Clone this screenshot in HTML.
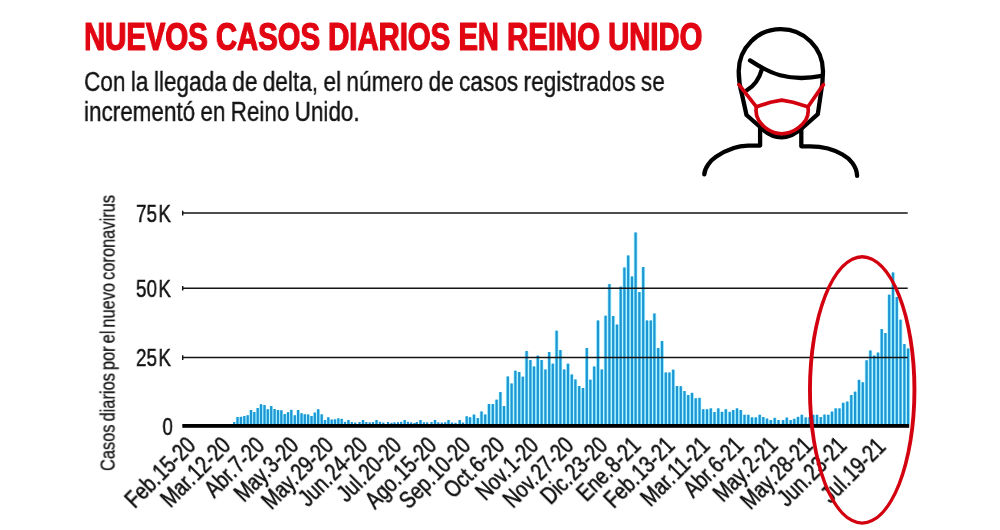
<!DOCTYPE html>
<html lang="es"><head><meta charset="utf-8"><title>Nuevos casos diarios en Reino Unido</title>
<style>
html,body{margin:0;padding:0;background:#fff}
body{position:relative;width:1000px;height:530px;overflow:hidden;font-family:"Liberation Sans",sans-serif;color:#111}
svg{position:absolute;left:0;top:0;display:block}
.t{position:absolute;white-space:nowrap;line-height:1;transform-origin:0 0}
.t,.yt,.xl,#ylab{will-change:transform}
#title{left:84.0px;top:18.0px;font-size:38.2px;font-weight:bold;color:#e20613;transform:scaleX(0.767);-webkit-text-stroke:1px #e20613;text-shadow:0.6px 0 #e20613,-0.6px 0 #e20613}
#sub1{left:84.4px;top:67.0px;font-size:28.2px;color:#141414;transform:scaleX(0.8035);word-spacing:-1.2px;-webkit-text-stroke:0.4px #141414}
#sub2{left:84.4px;top:97.1px;font-size:28.2px;color:#141414;transform:scaleX(0.797);word-spacing:-1.2px;-webkit-text-stroke:0.4px #141414}
.yt{position:absolute;white-space:nowrap;line-height:1;font-size:23.2px;color:#111;transform-origin:100% 0;transform:scaleX(0.815);right:829.2px;text-align:right;-webkit-text-stroke:0.45px #111}
#ylab{position:absolute;white-space:nowrap;line-height:1;font-size:20.4px;color:#111;left:117.6px;top:470.8px;transform-origin:0 100%;transform:translateY(-100%) rotate(-90deg) scaleX(0.806);word-spacing:-2px;-webkit-text-stroke:0.3px #111}
.xl{position:absolute;white-space:nowrap;line-height:1;font-size:24.2px;color:#111;top:450.4px;-webkit-text-stroke:0.6px #111;transform-origin:100% 100%;transform:translate(-100%,-100%) rotate(-45deg) scaleX(0.789);word-spacing:-5.4px}
</style></head><body>
<svg width="1000" height="530" viewBox="0 0 1000 530">
<g id="bars" shape-rendering="auto">
<rect x="235.80" y="417.30" width="3.40" height="6.70" fill="#a8f4ff"/>
<rect x="239.20" y="417.10" width="3.40" height="6.90" fill="#a8f4ff"/>
<rect x="242.60" y="416.30" width="3.40" height="7.70" fill="#a8f4ff"/>
<rect x="246.05" y="415.50" width="3.30" height="8.50" fill="#a8f4ff"/>
<rect x="249.35" y="410.30" width="3.30" height="13.70" fill="#a8f4ff"/>
<rect x="252.60" y="412.30" width="3.40" height="11.70" fill="#a8f4ff"/>
<rect x="256.05" y="408.30" width="3.30" height="15.70" fill="#a8f4ff"/>
<rect x="259.25" y="404.50" width="3.50" height="19.50" fill="#a8f4ff"/>
<rect x="262.85" y="405.30" width="3.30" height="18.70" fill="#a8f4ff"/>
<rect x="266.10" y="409.50" width="3.40" height="14.50" fill="#a8f4ff"/>
<rect x="269.50" y="406.30" width="3.40" height="17.70" fill="#a8f4ff"/>
<rect x="272.90" y="409.30" width="3.40" height="14.70" fill="#a8f4ff"/>
<rect x="276.35" y="410.30" width="3.30" height="13.70" fill="#a8f4ff"/>
<rect x="279.60" y="410.50" width="3.40" height="13.50" fill="#a8f4ff"/>
<rect x="283.05" y="414.30" width="3.30" height="9.70" fill="#a8f4ff"/>
<rect x="286.35" y="412.50" width="3.30" height="11.50" fill="#a8f4ff"/>
<rect x="289.55" y="410.10" width="3.50" height="13.90" fill="#a8f4ff"/>
<rect x="293.15" y="415.50" width="3.30" height="8.50" fill="#a8f4ff"/>
<rect x="296.40" y="410.30" width="3.40" height="13.70" fill="#a8f4ff"/>
<rect x="299.85" y="413.50" width="3.30" height="10.50" fill="#a8f4ff"/>
<rect x="303.15" y="414.50" width="3.30" height="9.50" fill="#a8f4ff"/>
<rect x="306.40" y="414.70" width="3.40" height="9.30" fill="#a8f4ff"/>
<rect x="309.85" y="416.30" width="3.30" height="7.70" fill="#a8f4ff"/>
<rect x="313.10" y="412.80" width="3.40" height="11.20" fill="#a8f4ff"/>
<rect x="316.45" y="409.50" width="3.50" height="14.50" fill="#a8f4ff"/>
<rect x="320.05" y="414.60" width="3.30" height="9.40" fill="#a8f4ff"/>
<rect x="323.35" y="420.30" width="3.30" height="3.70" fill="#a8f4ff"/>
<rect x="326.60" y="417.50" width="3.40" height="6.50" fill="#a8f4ff"/>
<rect x="330.05" y="419.80" width="3.30" height="4.20" fill="#a8f4ff"/>
<rect x="333.35" y="419.60" width="3.30" height="4.40" fill="#a8f4ff"/>
<rect x="336.60" y="418.60" width="3.40" height="5.40" fill="#a8f4ff"/>
<rect x="340.05" y="419.10" width="3.30" height="4.90" fill="#a8f4ff"/>
<rect x="346.70" y="420.30" width="3.40" height="3.70" fill="#a8f4ff"/>
<rect x="361.35" y="420.30" width="3.30" height="3.70" fill="#a8f4ff"/>
<rect x="374.75" y="420.30" width="3.50" height="3.70" fill="#a8f4ff"/>
<rect x="403.05" y="420.30" width="3.30" height="3.70" fill="#a8f4ff"/>
<rect x="418.75" y="420.30" width="3.50" height="3.70" fill="#a8f4ff"/>
<rect x="433.35" y="420.30" width="3.30" height="3.70" fill="#a8f4ff"/>
<rect x="446.75" y="420.30" width="3.50" height="3.70" fill="#a8f4ff"/>
<rect x="458.05" y="420.30" width="3.30" height="3.70" fill="#a8f4ff"/>
<rect x="465.05" y="416.50" width="3.30" height="7.50" fill="#a8f4ff"/>
<rect x="468.05" y="417.50" width="3.90" height="6.50" fill="#a8f4ff"/>
<rect x="472.10" y="414.80" width="3.80" height="9.20" fill="#a8f4ff"/>
<rect x="475.95" y="418.30" width="3.70" height="5.70" fill="#a8f4ff"/>
<rect x="479.65" y="411.70" width="3.70" height="12.30" fill="#a8f4ff"/>
<rect x="483.30" y="414.70" width="3.80" height="9.30" fill="#a8f4ff"/>
<rect x="487.10" y="404.30" width="3.80" height="19.70" fill="#a8f4ff"/>
<rect x="490.90" y="404.30" width="3.80" height="19.70" fill="#a8f4ff"/>
<rect x="494.70" y="399.90" width="3.80" height="24.10" fill="#a8f4ff"/>
<rect x="498.60" y="392.30" width="3.60" height="31.70" fill="#a8f4ff"/>
<rect x="502.10" y="406.30" width="3.80" height="17.70" fill="#a8f4ff"/>
<rect x="505.90" y="376.70" width="3.80" height="47.30" fill="#a8f4ff"/>
<rect x="509.70" y="383.70" width="3.80" height="40.30" fill="#a8f4ff"/>
<rect x="513.50" y="370.90" width="3.80" height="53.10" fill="#a8f4ff"/>
<rect x="517.40" y="372.30" width="3.60" height="51.70" fill="#a8f4ff"/>
<rect x="520.90" y="376.90" width="3.80" height="47.10" fill="#a8f4ff"/>
<rect x="524.70" y="351.30" width="3.80" height="72.70" fill="#a8f4ff"/>
<rect x="528.60" y="360.30" width="3.60" height="63.70" fill="#a8f4ff"/>
<rect x="532.10" y="366.70" width="3.80" height="57.30" fill="#a8f4ff"/>
<rect x="535.90" y="355.90" width="3.80" height="68.10" fill="#a8f4ff"/>
<rect x="539.70" y="360.30" width="3.80" height="63.70" fill="#a8f4ff"/>
<rect x="543.50" y="369.70" width="3.80" height="54.30" fill="#a8f4ff"/>
<rect x="547.40" y="352.30" width="3.60" height="71.70" fill="#a8f4ff"/>
<rect x="550.90" y="363.90" width="3.80" height="60.10" fill="#a8f4ff"/>
<rect x="554.70" y="330.90" width="3.80" height="93.10" fill="#a8f4ff"/>
<rect x="558.50" y="350.30" width="3.80" height="73.70" fill="#a8f4ff"/>
<rect x="562.30" y="369.70" width="3.80" height="54.30" fill="#a8f4ff"/>
<rect x="566.10" y="363.90" width="3.80" height="60.10" fill="#a8f4ff"/>
<rect x="570.00" y="374.70" width="3.60" height="49.30" fill="#a8f4ff"/>
<rect x="573.50" y="379.70" width="3.80" height="44.30" fill="#a8f4ff"/>
<rect x="577.30" y="386.30" width="3.80" height="37.70" fill="#a8f4ff"/>
<rect x="581.10" y="388.30" width="3.80" height="35.70" fill="#a8f4ff"/>
<rect x="585.00" y="348.30" width="3.60" height="75.70" fill="#a8f4ff"/>
<rect x="588.50" y="379.90" width="3.80" height="44.10" fill="#a8f4ff"/>
<rect x="592.30" y="366.70" width="3.80" height="57.30" fill="#a8f4ff"/>
<rect x="596.10" y="320.70" width="3.80" height="103.30" fill="#a8f4ff"/>
<rect x="599.90" y="369.70" width="3.80" height="54.30" fill="#a8f4ff"/>
<rect x="603.70" y="315.90" width="3.80" height="108.10" fill="#a8f4ff"/>
<rect x="607.50" y="284.30" width="3.80" height="139.70" fill="#a8f4ff"/>
<rect x="611.30" y="316.30" width="3.80" height="107.70" fill="#a8f4ff"/>
<rect x="615.15" y="324.80" width="3.70" height="99.20" fill="#a8f4ff"/>
<rect x="618.85" y="286.90" width="3.70" height="137.10" fill="#a8f4ff"/>
<rect x="622.50" y="267.70" width="3.80" height="156.30" fill="#a8f4ff"/>
<rect x="626.30" y="255.70" width="3.80" height="168.30" fill="#a8f4ff"/>
<rect x="630.20" y="276.70" width="3.60" height="147.30" fill="#a8f4ff"/>
<rect x="633.70" y="232.70" width="3.80" height="191.30" fill="#a8f4ff"/>
<rect x="637.50" y="292.30" width="3.80" height="131.70" fill="#a8f4ff"/>
<rect x="641.30" y="267.30" width="3.80" height="156.70" fill="#a8f4ff"/>
<rect x="645.10" y="320.70" width="3.80" height="103.30" fill="#a8f4ff"/>
<rect x="649.00" y="320.70" width="3.60" height="103.30" fill="#a8f4ff"/>
<rect x="652.50" y="313.70" width="3.80" height="110.30" fill="#a8f4ff"/>
<rect x="656.30" y="348.30" width="3.80" height="75.70" fill="#a8f4ff"/>
<rect x="660.10" y="341.30" width="3.80" height="82.70" fill="#a8f4ff"/>
<rect x="664.00" y="372.70" width="3.60" height="51.30" fill="#a8f4ff"/>
<rect x="667.50" y="372.70" width="3.80" height="51.30" fill="#a8f4ff"/>
<rect x="671.30" y="369.90" width="3.80" height="54.10" fill="#a8f4ff"/>
<rect x="675.10" y="386.30" width="3.80" height="37.70" fill="#a8f4ff"/>
<rect x="678.95" y="386.50" width="3.70" height="37.50" fill="#a8f4ff"/>
<rect x="682.65" y="391.30" width="3.70" height="32.70" fill="#a8f4ff"/>
<rect x="686.30" y="395.30" width="3.80" height="28.70" fill="#a8f4ff"/>
<rect x="690.15" y="393.10" width="3.70" height="30.90" fill="#a8f4ff"/>
<rect x="693.80" y="398.50" width="3.80" height="25.50" fill="#a8f4ff"/>
<rect x="697.65" y="398.10" width="3.70" height="25.90" fill="#a8f4ff"/>
<rect x="701.30" y="409.50" width="3.80" height="14.50" fill="#a8f4ff"/>
<rect x="705.10" y="409.50" width="3.80" height="14.50" fill="#a8f4ff"/>
<rect x="708.95" y="408.60" width="3.70" height="15.40" fill="#a8f4ff"/>
<rect x="712.60" y="412.30" width="3.80" height="11.70" fill="#a8f4ff"/>
<rect x="716.45" y="408.60" width="3.70" height="15.40" fill="#a8f4ff"/>
<rect x="720.10" y="412.10" width="3.80" height="11.90" fill="#a8f4ff"/>
<rect x="723.85" y="409.50" width="3.90" height="14.50" fill="#a8f4ff"/>
<rect x="727.95" y="412.10" width="3.50" height="11.90" fill="#a8f4ff"/>
<rect x="731.30" y="410.30" width="3.80" height="13.70" fill="#a8f4ff"/>
<rect x="735.10" y="408.60" width="3.80" height="15.40" fill="#a8f4ff"/>
<rect x="738.95" y="410.30" width="3.70" height="13.70" fill="#a8f4ff"/>
<rect x="742.60" y="415.00" width="3.80" height="9.00" fill="#a8f4ff"/>
<rect x="746.45" y="415.00" width="3.70" height="9.00" fill="#a8f4ff"/>
<rect x="750.10" y="417.60" width="3.80" height="6.40" fill="#a8f4ff"/>
<rect x="753.85" y="417.60" width="3.90" height="6.40" fill="#a8f4ff"/>
<rect x="757.90" y="415.00" width="3.60" height="9.00" fill="#a8f4ff"/>
<rect x="761.45" y="417.30" width="3.70" height="6.70" fill="#a8f4ff"/>
<rect x="765.10" y="418.80" width="3.80" height="5.20" fill="#a8f4ff"/>
<rect x="768.85" y="420.30" width="3.90" height="3.70" fill="#a8f4ff"/>
<rect x="772.80" y="418.10" width="3.80" height="5.90" fill="#a8f4ff"/>
<rect x="776.55" y="420.30" width="3.90" height="3.70" fill="#a8f4ff"/>
<rect x="781.25" y="420.30" width="3.70" height="3.70" fill="#a8f4ff"/>
<rect x="784.85" y="417.80" width="3.90" height="6.20" fill="#a8f4ff"/>
<rect x="788.90" y="420.30" width="3.60" height="3.70" fill="#a8f4ff"/>
<rect x="792.45" y="419.00" width="3.70" height="5.00" fill="#a8f4ff"/>
<rect x="796.10" y="417.10" width="3.80" height="6.90" fill="#a8f4ff"/>
<rect x="799.85" y="415.00" width="3.90" height="9.00" fill="#a8f4ff"/>
<rect x="803.80" y="417.60" width="3.80" height="6.40" fill="#a8f4ff"/>
<rect x="807.60" y="417.50" width="3.80" height="6.50" fill="#a8f4ff"/>
<rect x="811.45" y="415.00" width="3.70" height="9.00" fill="#a8f4ff"/>
<rect x="815.10" y="415.00" width="3.80" height="9.00" fill="#a8f4ff"/>
<rect x="818.95" y="417.30" width="3.70" height="6.70" fill="#a8f4ff"/>
<rect x="822.60" y="414.80" width="3.80" height="9.20" fill="#a8f4ff"/>
<rect x="826.45" y="415.00" width="3.70" height="9.00" fill="#a8f4ff"/>
<rect x="830.15" y="411.80" width="3.70" height="12.20" fill="#a8f4ff"/>
<rect x="833.80" y="408.60" width="3.80" height="15.40" fill="#a8f4ff"/>
<rect x="837.65" y="408.60" width="3.70" height="15.40" fill="#a8f4ff"/>
<rect x="841.25" y="403.00" width="3.90" height="21.00" fill="#a8f4ff"/>
<rect x="845.35" y="401.80" width="3.90" height="22.20" fill="#a8f4ff"/>
<rect x="849.40" y="395.30" width="3.80" height="28.70" fill="#a8f4ff"/>
<rect x="853.15" y="391.90" width="3.90" height="32.10" fill="#a8f4ff"/>
<rect x="857.10" y="380.10" width="3.80" height="43.90" fill="#a8f4ff"/>
<rect x="860.90" y="382.50" width="3.80" height="41.50" fill="#a8f4ff"/>
<rect x="864.70" y="360.50" width="3.80" height="63.50" fill="#a8f4ff"/>
<rect x="868.50" y="350.70" width="3.80" height="73.30" fill="#a8f4ff"/>
<rect x="872.30" y="355.80" width="3.80" height="68.20" fill="#a8f4ff"/>
<rect x="876.15" y="352.80" width="3.70" height="71.20" fill="#a8f4ff"/>
<rect x="879.85" y="329.30" width="3.70" height="94.70" fill="#a8f4ff"/>
<rect x="883.50" y="333.30" width="3.80" height="90.70" fill="#a8f4ff"/>
<rect x="887.30" y="294.90" width="3.80" height="129.10" fill="#a8f4ff"/>
<rect x="891.10" y="272.70" width="3.80" height="151.30" fill="#a8f4ff"/>
<rect x="894.95" y="297.30" width="3.70" height="126.70" fill="#a8f4ff"/>
<rect x="898.55" y="319.90" width="3.90" height="104.10" fill="#a8f4ff"/>
<rect x="902.55" y="344.30" width="3.70" height="79.70" fill="#a8f4ff"/>
<rect x="906.25" y="348.70" width="3.70" height="75.30" fill="#a8f4ff"/>
<rect x="233.07" y="422.00" width="2.25" height="2.50" fill="#1e96d4"/>
<rect x="236.38" y="417.00" width="2.25" height="7.50" fill="#1e96d4"/>
<rect x="239.78" y="416.80" width="2.25" height="7.70" fill="#1e96d4"/>
<rect x="243.18" y="416.00" width="2.25" height="8.50" fill="#1e96d4"/>
<rect x="246.57" y="415.20" width="2.25" height="9.30" fill="#1e96d4"/>
<rect x="249.88" y="410.00" width="2.25" height="14.50" fill="#1e96d4"/>
<rect x="253.18" y="412.00" width="2.25" height="12.50" fill="#1e96d4"/>
<rect x="256.57" y="408.00" width="2.25" height="16.50" fill="#1e96d4"/>
<rect x="259.88" y="404.20" width="2.25" height="20.30" fill="#1e96d4"/>
<rect x="263.38" y="405.00" width="2.25" height="19.50" fill="#1e96d4"/>
<rect x="266.68" y="409.20" width="2.25" height="15.30" fill="#1e96d4"/>
<rect x="270.07" y="406.00" width="2.25" height="18.50" fill="#1e96d4"/>
<rect x="273.48" y="409.00" width="2.25" height="15.50" fill="#1e96d4"/>
<rect x="276.88" y="410.00" width="2.25" height="14.50" fill="#1e96d4"/>
<rect x="280.18" y="410.20" width="2.25" height="14.30" fill="#1e96d4"/>
<rect x="283.57" y="414.00" width="2.25" height="10.50" fill="#1e96d4"/>
<rect x="286.88" y="412.20" width="2.25" height="12.30" fill="#1e96d4"/>
<rect x="290.18" y="409.80" width="2.25" height="14.70" fill="#1e96d4"/>
<rect x="293.68" y="415.20" width="2.25" height="9.30" fill="#1e96d4"/>
<rect x="296.98" y="410.00" width="2.25" height="14.50" fill="#1e96d4"/>
<rect x="300.38" y="413.20" width="2.25" height="11.30" fill="#1e96d4"/>
<rect x="303.68" y="414.20" width="2.25" height="10.30" fill="#1e96d4"/>
<rect x="306.98" y="414.40" width="2.25" height="10.10" fill="#1e96d4"/>
<rect x="310.38" y="416.00" width="2.25" height="8.50" fill="#1e96d4"/>
<rect x="313.68" y="412.50" width="2.25" height="12.00" fill="#1e96d4"/>
<rect x="317.07" y="409.20" width="2.25" height="15.30" fill="#1e96d4"/>
<rect x="320.57" y="414.30" width="2.25" height="10.20" fill="#1e96d4"/>
<rect x="323.88" y="420.00" width="2.25" height="4.50" fill="#1e96d4"/>
<rect x="327.18" y="417.20" width="2.25" height="7.30" fill="#1e96d4"/>
<rect x="330.57" y="419.50" width="2.25" height="5.00" fill="#1e96d4"/>
<rect x="333.88" y="419.30" width="2.25" height="5.20" fill="#1e96d4"/>
<rect x="337.18" y="418.30" width="2.25" height="6.20" fill="#1e96d4"/>
<rect x="340.57" y="418.80" width="2.25" height="5.70" fill="#1e96d4"/>
<rect x="343.88" y="421.80" width="2.25" height="2.70" fill="#1e96d4"/>
<rect x="347.27" y="420.00" width="2.25" height="4.50" fill="#1e96d4"/>
<rect x="350.68" y="422.00" width="2.25" height="2.50" fill="#1e96d4"/>
<rect x="354.07" y="422.50" width="2.25" height="2.00" fill="#1e96d4"/>
<rect x="358.38" y="422.00" width="2.25" height="2.50" fill="#1e96d4"/>
<rect x="361.88" y="420.00" width="2.25" height="4.50" fill="#1e96d4"/>
<rect x="365.18" y="422.00" width="2.25" height="2.50" fill="#1e96d4"/>
<rect x="368.57" y="422.30" width="2.25" height="2.20" fill="#1e96d4"/>
<rect x="371.88" y="422.00" width="2.25" height="2.50" fill="#1e96d4"/>
<rect x="375.38" y="420.00" width="2.25" height="4.50" fill="#1e96d4"/>
<rect x="378.88" y="421.80" width="2.25" height="2.70" fill="#1e96d4"/>
<rect x="382.18" y="422.50" width="2.25" height="2.00" fill="#1e96d4"/>
<rect x="386.88" y="422.00" width="2.25" height="2.50" fill="#1e96d4"/>
<rect x="390.38" y="422.80" width="2.25" height="1.70" fill="#1e96d4"/>
<rect x="393.38" y="422.30" width="2.25" height="2.20" fill="#1e96d4"/>
<rect x="396.88" y="422.20" width="2.25" height="2.30" fill="#1e96d4"/>
<rect x="400.07" y="421.80" width="2.25" height="2.70" fill="#1e96d4"/>
<rect x="403.57" y="420.00" width="2.25" height="4.50" fill="#1e96d4"/>
<rect x="406.88" y="421.80" width="2.25" height="2.70" fill="#1e96d4"/>
<rect x="410.07" y="422.30" width="2.25" height="2.20" fill="#1e96d4"/>
<rect x="413.38" y="423.00" width="2.25" height="1.50" fill="#1e96d4"/>
<rect x="415.68" y="422.00" width="2.25" height="2.50" fill="#1e96d4"/>
<rect x="419.38" y="420.00" width="2.25" height="4.50" fill="#1e96d4"/>
<rect x="422.88" y="422.30" width="2.25" height="2.20" fill="#1e96d4"/>
<rect x="426.07" y="422.30" width="2.25" height="2.20" fill="#1e96d4"/>
<rect x="430.38" y="422.00" width="2.25" height="2.50" fill="#1e96d4"/>
<rect x="433.88" y="420.00" width="2.25" height="4.50" fill="#1e96d4"/>
<rect x="437.18" y="422.30" width="2.25" height="2.20" fill="#1e96d4"/>
<rect x="440.68" y="422.50" width="2.25" height="2.00" fill="#1e96d4"/>
<rect x="444.07" y="422.20" width="2.25" height="2.30" fill="#1e96d4"/>
<rect x="447.38" y="420.00" width="2.25" height="4.50" fill="#1e96d4"/>
<rect x="450.88" y="422.50" width="2.25" height="2.00" fill="#1e96d4"/>
<rect x="454.38" y="422.80" width="2.25" height="1.70" fill="#1e96d4"/>
<rect x="458.57" y="420.00" width="2.25" height="4.50" fill="#1e96d4"/>
<rect x="461.88" y="422.50" width="2.25" height="2.00" fill="#1e96d4"/>
<rect x="465.57" y="416.20" width="2.25" height="8.30" fill="#1e96d4"/>
<rect x="468.88" y="417.20" width="2.25" height="7.30" fill="#1e96d4"/>
<rect x="472.88" y="414.50" width="2.25" height="10.00" fill="#1e96d4"/>
<rect x="476.68" y="418.00" width="2.25" height="6.50" fill="#1e96d4"/>
<rect x="480.38" y="411.40" width="2.25" height="13.10" fill="#1e96d4"/>
<rect x="484.07" y="414.40" width="2.25" height="10.10" fill="#1e96d4"/>
<rect x="487.88" y="404.00" width="2.25" height="20.50" fill="#1e96d4"/>
<rect x="491.68" y="404.00" width="2.25" height="20.50" fill="#1e96d4"/>
<rect x="495.48" y="399.60" width="2.25" height="24.90" fill="#1e96d4"/>
<rect x="499.27" y="392.00" width="2.25" height="32.50" fill="#1e96d4"/>
<rect x="502.88" y="406.00" width="2.25" height="18.50" fill="#1e96d4"/>
<rect x="506.68" y="376.40" width="2.25" height="48.10" fill="#1e96d4"/>
<rect x="510.48" y="383.40" width="2.25" height="41.10" fill="#1e96d4"/>
<rect x="514.27" y="370.60" width="2.25" height="53.90" fill="#1e96d4"/>
<rect x="518.08" y="372.00" width="2.25" height="52.50" fill="#1e96d4"/>
<rect x="521.67" y="376.60" width="2.25" height="47.90" fill="#1e96d4"/>
<rect x="525.48" y="351.00" width="2.25" height="73.50" fill="#1e96d4"/>
<rect x="529.27" y="360.00" width="2.25" height="64.50" fill="#1e96d4"/>
<rect x="532.88" y="366.40" width="2.25" height="58.10" fill="#1e96d4"/>
<rect x="536.67" y="355.60" width="2.25" height="68.90" fill="#1e96d4"/>
<rect x="540.48" y="360.00" width="2.25" height="64.50" fill="#1e96d4"/>
<rect x="544.27" y="369.40" width="2.25" height="55.10" fill="#1e96d4"/>
<rect x="548.08" y="352.00" width="2.25" height="72.50" fill="#1e96d4"/>
<rect x="551.67" y="363.60" width="2.25" height="60.90" fill="#1e96d4"/>
<rect x="555.48" y="330.60" width="2.25" height="93.90" fill="#1e96d4"/>
<rect x="559.27" y="350.00" width="2.25" height="74.50" fill="#1e96d4"/>
<rect x="563.08" y="369.40" width="2.25" height="55.10" fill="#1e96d4"/>
<rect x="566.88" y="363.60" width="2.25" height="60.90" fill="#1e96d4"/>
<rect x="570.67" y="374.40" width="2.25" height="50.10" fill="#1e96d4"/>
<rect x="574.27" y="379.40" width="2.25" height="45.10" fill="#1e96d4"/>
<rect x="578.08" y="386.00" width="2.25" height="38.50" fill="#1e96d4"/>
<rect x="581.88" y="388.00" width="2.25" height="36.50" fill="#1e96d4"/>
<rect x="585.67" y="348.00" width="2.25" height="76.50" fill="#1e96d4"/>
<rect x="589.27" y="379.60" width="2.25" height="44.90" fill="#1e96d4"/>
<rect x="593.08" y="366.40" width="2.25" height="58.10" fill="#1e96d4"/>
<rect x="596.88" y="320.40" width="2.25" height="104.10" fill="#1e96d4"/>
<rect x="600.67" y="369.40" width="2.25" height="55.10" fill="#1e96d4"/>
<rect x="604.48" y="315.60" width="2.25" height="108.90" fill="#1e96d4"/>
<rect x="608.27" y="284.00" width="2.25" height="140.50" fill="#1e96d4"/>
<rect x="612.08" y="316.00" width="2.25" height="108.50" fill="#1e96d4"/>
<rect x="615.88" y="324.50" width="2.25" height="100.00" fill="#1e96d4"/>
<rect x="619.58" y="286.60" width="2.25" height="137.90" fill="#1e96d4"/>
<rect x="623.27" y="267.40" width="2.25" height="157.10" fill="#1e96d4"/>
<rect x="627.08" y="255.40" width="2.25" height="169.10" fill="#1e96d4"/>
<rect x="630.88" y="276.40" width="2.25" height="148.10" fill="#1e96d4"/>
<rect x="634.48" y="232.40" width="2.25" height="192.10" fill="#1e96d4"/>
<rect x="638.27" y="292.00" width="2.25" height="132.50" fill="#1e96d4"/>
<rect x="642.08" y="267.00" width="2.25" height="157.50" fill="#1e96d4"/>
<rect x="645.88" y="320.40" width="2.25" height="104.10" fill="#1e96d4"/>
<rect x="649.67" y="320.40" width="2.25" height="104.10" fill="#1e96d4"/>
<rect x="653.27" y="313.40" width="2.25" height="111.10" fill="#1e96d4"/>
<rect x="657.08" y="348.00" width="2.25" height="76.50" fill="#1e96d4"/>
<rect x="660.88" y="341.00" width="2.25" height="83.50" fill="#1e96d4"/>
<rect x="664.67" y="372.40" width="2.25" height="52.10" fill="#1e96d4"/>
<rect x="668.27" y="372.40" width="2.25" height="52.10" fill="#1e96d4"/>
<rect x="672.08" y="369.60" width="2.25" height="54.90" fill="#1e96d4"/>
<rect x="675.88" y="386.00" width="2.25" height="38.50" fill="#1e96d4"/>
<rect x="679.67" y="386.20" width="2.25" height="38.30" fill="#1e96d4"/>
<rect x="683.38" y="391.00" width="2.25" height="33.50" fill="#1e96d4"/>
<rect x="687.08" y="395.00" width="2.25" height="29.50" fill="#1e96d4"/>
<rect x="690.88" y="392.80" width="2.25" height="31.70" fill="#1e96d4"/>
<rect x="694.58" y="398.20" width="2.25" height="26.30" fill="#1e96d4"/>
<rect x="698.38" y="397.80" width="2.25" height="26.70" fill="#1e96d4"/>
<rect x="702.08" y="409.20" width="2.25" height="15.30" fill="#1e96d4"/>
<rect x="705.88" y="409.20" width="2.25" height="15.30" fill="#1e96d4"/>
<rect x="709.67" y="408.30" width="2.25" height="16.20" fill="#1e96d4"/>
<rect x="713.38" y="412.00" width="2.25" height="12.50" fill="#1e96d4"/>
<rect x="717.17" y="408.30" width="2.25" height="16.20" fill="#1e96d4"/>
<rect x="720.88" y="411.80" width="2.25" height="12.70" fill="#1e96d4"/>
<rect x="724.67" y="409.20" width="2.25" height="15.30" fill="#1e96d4"/>
<rect x="728.58" y="411.80" width="2.25" height="12.70" fill="#1e96d4"/>
<rect x="732.08" y="410.00" width="2.25" height="14.50" fill="#1e96d4"/>
<rect x="735.88" y="408.30" width="2.25" height="16.20" fill="#1e96d4"/>
<rect x="739.67" y="410.00" width="2.25" height="14.50" fill="#1e96d4"/>
<rect x="743.38" y="414.70" width="2.25" height="9.80" fill="#1e96d4"/>
<rect x="747.17" y="414.70" width="2.25" height="9.80" fill="#1e96d4"/>
<rect x="750.88" y="417.30" width="2.25" height="7.20" fill="#1e96d4"/>
<rect x="754.67" y="417.30" width="2.25" height="7.20" fill="#1e96d4"/>
<rect x="758.58" y="414.70" width="2.25" height="9.80" fill="#1e96d4"/>
<rect x="762.17" y="417.00" width="2.25" height="7.50" fill="#1e96d4"/>
<rect x="765.88" y="418.50" width="2.25" height="6.00" fill="#1e96d4"/>
<rect x="769.67" y="420.00" width="2.25" height="4.50" fill="#1e96d4"/>
<rect x="773.58" y="417.80" width="2.25" height="6.70" fill="#1e96d4"/>
<rect x="777.38" y="420.00" width="2.25" height="4.50" fill="#1e96d4"/>
<rect x="781.98" y="420.00" width="2.25" height="4.50" fill="#1e96d4"/>
<rect x="785.67" y="417.50" width="2.25" height="7.00" fill="#1e96d4"/>
<rect x="789.58" y="420.00" width="2.25" height="4.50" fill="#1e96d4"/>
<rect x="793.17" y="418.70" width="2.25" height="5.80" fill="#1e96d4"/>
<rect x="796.88" y="416.80" width="2.25" height="7.70" fill="#1e96d4"/>
<rect x="800.67" y="414.70" width="2.25" height="9.80" fill="#1e96d4"/>
<rect x="804.58" y="417.30" width="2.25" height="7.20" fill="#1e96d4"/>
<rect x="808.38" y="417.20" width="2.25" height="7.30" fill="#1e96d4"/>
<rect x="812.17" y="414.70" width="2.25" height="9.80" fill="#1e96d4"/>
<rect x="815.88" y="414.70" width="2.25" height="9.80" fill="#1e96d4"/>
<rect x="819.67" y="417.00" width="2.25" height="7.50" fill="#1e96d4"/>
<rect x="823.38" y="414.50" width="2.25" height="10.00" fill="#1e96d4"/>
<rect x="827.17" y="414.70" width="2.25" height="9.80" fill="#1e96d4"/>
<rect x="830.88" y="411.50" width="2.25" height="13.00" fill="#1e96d4"/>
<rect x="834.58" y="408.30" width="2.25" height="16.20" fill="#1e96d4"/>
<rect x="838.38" y="408.30" width="2.25" height="16.20" fill="#1e96d4"/>
<rect x="842.08" y="402.70" width="2.25" height="21.80" fill="#1e96d4"/>
<rect x="846.17" y="401.50" width="2.25" height="23.00" fill="#1e96d4"/>
<rect x="850.17" y="395.00" width="2.25" height="29.50" fill="#1e96d4"/>
<rect x="853.98" y="391.60" width="2.25" height="32.90" fill="#1e96d4"/>
<rect x="857.88" y="379.80" width="2.25" height="44.70" fill="#1e96d4"/>
<rect x="861.67" y="382.20" width="2.25" height="42.30" fill="#1e96d4"/>
<rect x="865.48" y="360.20" width="2.25" height="64.30" fill="#1e96d4"/>
<rect x="869.27" y="350.40" width="2.25" height="74.10" fill="#1e96d4"/>
<rect x="873.08" y="355.50" width="2.25" height="69.00" fill="#1e96d4"/>
<rect x="876.88" y="352.50" width="2.25" height="72.00" fill="#1e96d4"/>
<rect x="880.58" y="329.00" width="2.25" height="95.50" fill="#1e96d4"/>
<rect x="884.27" y="333.00" width="2.25" height="91.50" fill="#1e96d4"/>
<rect x="888.08" y="294.60" width="2.25" height="129.90" fill="#1e96d4"/>
<rect x="891.88" y="272.40" width="2.25" height="152.10" fill="#1e96d4"/>
<rect x="895.67" y="297.00" width="2.25" height="127.50" fill="#1e96d4"/>
<rect x="899.38" y="319.60" width="2.25" height="104.90" fill="#1e96d4"/>
<rect x="903.27" y="344.00" width="2.25" height="80.50" fill="#1e96d4"/>
<rect x="906.98" y="348.40" width="2.25" height="76.10" fill="#1e96d4"/>
</g>
<g id="grid" stroke="#141414" stroke-width="1.45" fill="none">
<path d="M182.5 213H907.7M182.5 288.2H907.7M182.5 357.5H907.7"/>
<path d="M182.7 210.8V215.4M182.7 286V290.6M182.7 355.3V359.9"/>
</g>
<rect x="182.3" y="424" width="726.9" height="3.8" fill="#000"/>
<g id="icon" fill="none" stroke-linecap="round" stroke-linejoin="round">
<g stroke="#000" stroke-width="4.3">
<path d="M742.1 95 C739.6 86 738.7 78 738.7 71.2 A42.15 42.15 0 0 1 823 71.2 C823 78 822.3 86 820.6 95 L817.8 114.2 L803.4 127 C796 134 789 137.3 781.7 137.3 C774.5 137.3 767 134 760.1 127 L746.5 115 Z"/>
<path d="M750 60.4 C760 67 770 72.5 780.1 75.3 C794 79 808 78.6 821.8 75.9"/>
<path d="M761.7 69.7 C759.5 78 754 86 746.5 90.5"/>
<path d="M760.1 127.9 V145.6 H748 C736 145.6 726 150 716 156.7 C710.5 160.3 704.6 168 704.3 174.3"/>
<path d="M801.3 127.9 V146.3 H810 C822 146.3 834.5 149.5 843 154.8 C849.5 158.2 856.8 166 857.1 175.9"/>
</g>
<g stroke="#d3000f" stroke-width="3.7" transform="translate(0 0.5)">
<path d="M738.9 84.1 L756.2 106.2"/>
<path d="M823.4 84.1 L808 106.2"/>
<path d="M756.5 106.2 L770.5 101.7 L781.7 99.6 L793 101.7 L807.7 106.2"/>
<path d="M756.3 107 C755.5 112 756.5 116 758.5 119.5 C762 125 768 130 774 132 C779 133.6 784.5 133.6 789.5 132 C795.5 130 802 125 805.8 119.5 C807.8 116 808.8 112 808 107"/>
</g>
</g>
</svg>
<div id="title" class="t">NUEVOS CASOS DIARIOS EN REINO UNIDO</div>
<div id="sub1" class="t">Con la llegada de delta, el número de casos registrados se</div>
<div id="sub2" class="t">incrementó en Reino Unido.</div>
<div class="yt" style="top:202.7px">75<span style="margin-left:1.6px">K</span></div>
<div class="yt" style="top:278px">50<span style="margin-left:1.6px">K</span></div>
<div class="yt" style="top:347.2px">25<span style="margin-left:1.6px">K</span></div>
<div class="yt" style="top:415.6px;right:827.6px">0</div>
<div id="ylab">Casos diarios por el nuevo coronavirus</div>
<div class="xl" style="left:200.4px">Feb. 15-20</div>
<div class="xl" style="left:234.7px">Mar. 12-20</div>
<div class="xl" style="left:269.0px">Abr. 7-20</div>
<div class="xl" style="left:303.3px">May. 3-20</div>
<div class="xl" style="left:337.6px">May. 29-20</div>
<div class="xl" style="left:371.9px">Jun. 24-20</div>
<div class="xl" style="left:406.2px">Jul. 20-20</div>
<div class="xl" style="left:440.5px">Ago. 15-20</div>
<div class="xl" style="left:474.8px">Sep. 10-20</div>
<div class="xl" style="left:509.1px">Oct. 6-20</div>
<div class="xl" style="left:543.4px">Nov. 1-20</div>
<div class="xl" style="left:577.7px">Nov. 27-20</div>
<div class="xl" style="left:612.0px">Dic. 23-20</div>
<div class="xl" style="left:645.1px">Ene. 8-21</div>
<div class="xl" style="left:679.4px">Feb. 13-21</div>
<div class="xl" style="left:713.7px">Mar. 11-21</div>
<div class="xl" style="left:748.0px">Abr. 6-21</div>
<div class="xl" style="left:782.3px">May. 2-21</div>
<div class="xl" style="left:816.6px">May. 28-21</div>
<div class="xl" style="left:850.9px">Jun. 23-21</div>
<div class="xl" style="left:890.2px;top:451.2px">Jul. 19-21</div>
<svg width="1000" height="530" viewBox="0 0 1000 530" style="pointer-events:none">
<path fill="#d3000f" fill-rule="evenodd" d="M808.0 389.9a54.2 134.8 0 1 0 108.4 0a54.2 134.8 0 1 0 -108.4 0Z M811.9 389.9a50.3 131.5 0 1 0 100.6 0a50.3 131.5 0 1 0 -100.6 0Z"/>
</svg>
</body></html>
